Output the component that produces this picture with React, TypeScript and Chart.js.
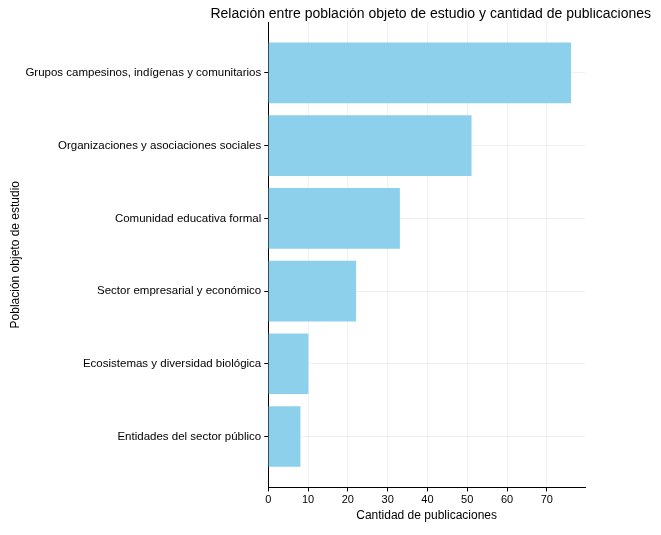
import React, { useEffect, useRef } from "react";
import { Chart, registerables } from "chart.js";
Chart.register(...registerables);

const categories = [
  "Grupos campesinos, indígenas y comunitarios",
  "Organizaciones y asociaciones sociales",
  "Comunidad educativa formal",
  "Sector empresarial y económico",
  "Ecosistemas y diversidad biológica",
  "Entidades del sector público",
];
const values = [76, 51, 33, 22, 10, 8];
const xTicks = [0, 10, 20, 30, 40, 50, 60, 70];
const title = "Relación entre población objeto de estudio y cantidad de publicaciones";

export default function App() {
  const ref = useRef<HTMLCanvasElement>(null);
  useEffect(() => {
    const font = "Liberation Sans";
    const titlePlugin = {
      id: "ttl",
      afterDraw(c: any) {
        const ctx = c.ctx;
        ctx.save();
        ctx.font = `14px ${font}`;
        ctx.fillStyle = "#000";
        ctx.textAlign = "right";
        ctx.textBaseline = "middle";
        ctx.fillText(title, c.width - 2, 6);
        ctx.restore();
      },
    };
    const chart = new Chart(ref.current!, {
      type: "bar",
      data: {
        datasets: [
          {
            data: values.map((v, i) => ({ x: v, y: i })),
            backgroundColor: "rgba(135,206,235,0.95)",
            barThickness: 60,
          },
        ],
      },
      plugins: [titlePlugin],
      options: {
        indexAxis: "y",
        animation: false,
        responsive: true,
        maintainAspectRatio: false,
        layout: { padding: { top: 14, right: 68, left: 0, bottom: 0 } },
        plugins: { legend: { display: false }, tooltip: { enabled: false } },
        scales: {
          x: {
            type: "linear",
            min: 0,
            max: 79.6,
            afterBuildTicks: (s: any) => { s.ticks = xTicks.map((v) => ({ value: v })); },
            grid: { color: "rgba(0,0,0,0.06)", tickColor: "#000", tickLength: 4 },
            border: { color: "#000", width: 1 },
            ticks: { color: "#000", font: { family: font, size: 11 }, padding: 2 },
            title: { display: true, text: "Cantidad de publicaciones", color: "#000", font: { family: font, size: 12 }, padding: { top: 0 } },
          },
          y: {
            type: "linear",
            reverse: true,
            offset: false,
            min: -0.7,
            max: 5.7,
            afterBuildTicks: (s: any) => { s.ticks = categories.map((_, i) => ({ value: i })); },
            grid: { color: "rgba(0,0,0,0.06)", tickColor: "#000", tickLength: 4, offset: false },
            border: { color: "#000", width: 1 },
            ticks: { color: "#000", font: { family: font, size: 11.5 }, padding: 3, callback: (v: any) => categories[v] ?? "" },
            title: { display: true, text: "Población objeto de estudio", color: "#000", font: { family: font, size: 12 }, padding: { bottom: 0, top: 0 } },
          },
        },
      },
    });
    return () => chart.destroy();
  }, []);
  return (
    <div style={{ width: 645, height: 519 }}>
      <canvas ref={ref} />
    </div>
  );
}
